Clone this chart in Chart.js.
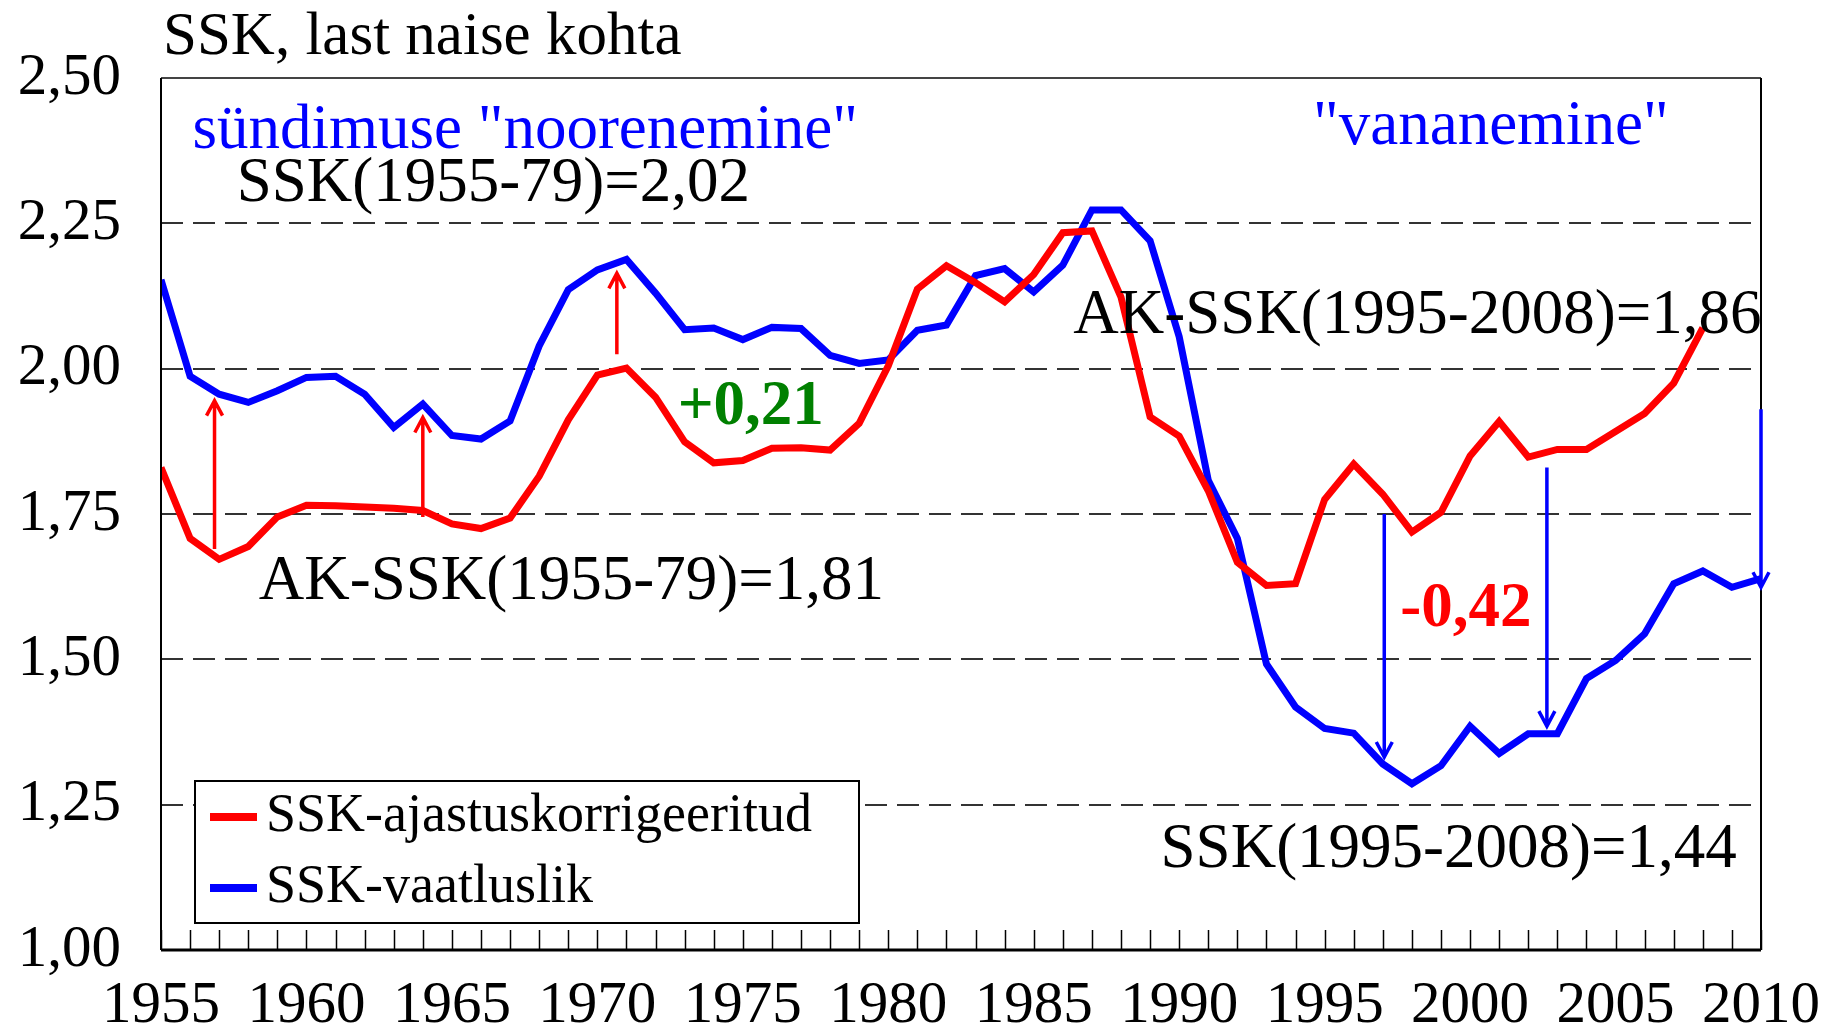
<!DOCTYPE html>
<html lang="et">
<head>
<meta charset="UTF-8">
<title>SSK, last naise kohta</title>
<script src="https://cdn.jsdelivr.net/npm/chart.js"></script>
<style>
  body { margin: 0; background: #fff; }
  #wrap { width: 1825px; height: 1028px; }
</style>
</head>
<body>
<div id="wrap"><canvas id="ssk"></canvas></div>
<script>
// aastad ja read
const years = [];
for (let y = 1955; y <= 2010; y++) years.push(y);

const ajastusKorrig = [
  1.830, 1.708, 1.672, 1.694, 1.745, 1.765, 1.764, 1.762, 1.760, 1.756,
  1.733, 1.725, 1.743, 1.815, 1.912, 1.989, 2.001, 1.951, 1.874, 1.838,
  1.842, 1.863, 1.864, 1.860, 1.906, 2.005, 2.137, 2.177, 2.148, 2.115,
  2.162, 2.234, 2.237, 2.123, 1.917, 1.884, 1.790, 1.667, 1.627, 1.630,
  1.775, 1.836, 1.784, 1.719, 1.753, 1.850, 1.909, 1.848, 1.861, 1.861,
  1.892, 1.923, 1.975, 2.070
];
const vaatluslik = [
  2.153, 1.987, 1.956, 1.942, 1.962, 1.985, 1.987, 1.956, 1.899, 1.939,
  1.885, 1.879, 1.910, 2.039, 2.136, 2.170, 2.188, 2.130, 2.067, 2.070,
  2.050, 2.071, 2.069, 2.023, 2.009, 2.015, 2.066, 2.075, 2.160, 2.172,
  2.132, 2.178, 2.273, 2.273, 2.220, 2.055, 1.808, 1.708, 1.492, 1.418,
  1.381, 1.373, 1.320, 1.286, 1.317, 1.385, 1.338, 1.372, 1.372, 1.467,
  1.498, 1.544, 1.630, 1.652, 1.624, 1.639
];
const seriesNames = ['SSK-ajastuskorrigeeritud', 'SSK-vaatluslik'];
const yTicks = [1.00, 1.25, 1.50, 1.75, 2.00, 2.25, 2.50];

// nooled: aasta, algus, lõpp
const redArrowX = [1956.84, 1964.0, 1970.67];
const redArrowFrom = [1.690, 1.745, 2.025];
const redArrowTo = [1.945, 1.916, 2.164];
const blueArrowX = [1997.05, 2002.64, 2010.0];
const blueArrowFrom = [1.750, 1.830, 1.930];
const blueArrowTo = [1.332, 1.385, 1.624];

// tekstid: [tekst, aasta, väärtus, värv, paks]
const notes = [
  ['sündimuse "noorenemine"', 1956.08, 2.380, '#0000ff', false],
  ['SSK(1955-79)=2,02', 1957.6, 2.288, '#000', false],
  ['+0,21', 1972.76, 1.904, '#008000', true],
  ['AK-SSK(1955-79)=1,81', 1958.36, 1.604, '#000', false],
  ['AK-SSK(1995-2008)=1,86', 1986.36, 2.062, '#000', false],
  ['"vananemine"', 1994.6, 2.386, '#0000ff', false],
  ['-0,42', 1997.6, 1.558, '#ff0000', true],
  ['SSK(1995-2008)=1,44', 1989.36, 1.142, '#000', false]
];

const SERIF = "'Liberation Serif', 'Times New Roman', serif";
const RED = '#ff0000';
const BLUE = '#0000ff';

function drawArrow(ctx, x, y1, y2, color) {
  const dir = y2 < y1 ? 1 : -1;
  ctx.strokeStyle = color;
  ctx.lineWidth = 3.5;
  ctx.beginPath();
  ctx.moveTo(x, y1);
  ctx.lineTo(x, y2);
  ctx.moveTo(x - 8, y2 + dir * 15);
  ctx.lineTo(x, y2);
  ctx.lineTo(x + 8, y2 + dir * 15);
  ctx.stroke();
}

const extras = {
  id: 'extras',
  afterDatasetsDraw(chart) {
    const ctx = chart.ctx;
    const xs = chart.scales.x, ys = chart.scales.y;
    const ca = chart.chartArea;
    ctx.save();

    // sisemised kriipsud x-teljel
    ctx.strokeStyle = '#000';
    ctx.lineWidth = 1.5;
    ctx.beginPath();
    years.forEach(yr => {
      const px = Math.round(xs.getPixelForValue(yr)) + 0.5;
      ctx.moveTo(px, ca.bottom);
      ctx.lineTo(px, ca.bottom - 20);
    });
    ctx.stroke();

    // raam
    ctx.strokeStyle = '#444';
    ctx.lineWidth = 2;
    ctx.beginPath();
    ctx.moveTo(ca.left, ca.top);
    ctx.lineTo(ca.right, ca.top);
    ctx.stroke();
    ctx.strokeStyle = '#000';
    ctx.beginPath();
    ctx.moveTo(ca.left, ca.bottom);
    ctx.lineTo(ca.left, ca.top);
    ctx.moveTo(ca.right, ca.top);
    ctx.lineTo(ca.right, ca.bottom);
    ctx.stroke();
    ctx.lineWidth = 3;
    ctx.beginPath();
    ctx.moveTo(ca.left, ca.bottom);
    ctx.lineTo(ca.right, ca.bottom);
    ctx.stroke();

    // nooled
    redArrowX.forEach((yr, i) => drawArrow(ctx, xs.getPixelForValue(yr),
      ys.getPixelForValue(redArrowFrom[i]), ys.getPixelForValue(redArrowTo[i]), RED));
    blueArrowX.forEach((yr, i) => drawArrow(ctx, xs.getPixelForValue(yr),
      ys.getPixelForValue(blueArrowFrom[i]), ys.getPixelForValue(blueArrowTo[i]), BLUE));

    // tekstid
    ctx.textBaseline = 'alphabetic';
    ctx.textAlign = 'left';
    notes.forEach(([t, yr, v, col, bold]) => {
      ctx.font = (bold ? 'bold ' : '') + '63px ' + SERIF;
      ctx.fillStyle = col;
      ctx.fillText(t, xs.getPixelForValue(yr), ys.getPixelForValue(v));
    });

    // pealkiri
    ctx.font = '61px ' + SERIF;
    ctx.fillStyle = '#000';
    ctx.fillText('SSK, last naise kohta', ca.left + 2, 54);

    // legend
    const lx = ca.left + 34, lw = 664, lh = 142, ly = ca.bottom - 27 - lh;
    ctx.fillStyle = '#fff';
    ctx.fillRect(lx, ly, lw, lh);
    ctx.strokeStyle = '#000';
    ctx.lineWidth = 2;
    ctx.strokeRect(lx, ly, lw, lh);
    ctx.font = '54px ' + SERIF;
    ctx.textBaseline = 'middle';
    chart.data.datasets.forEach((ds, i) => {
      const cy = ly + 36 + i * 71;
      ctx.strokeStyle = ds.borderColor;
      ctx.lineWidth = 8;
      ctx.beginPath();
      ctx.moveTo(lx + 15, cy);
      ctx.lineTo(lx + 62, cy);
      ctx.stroke();
      ctx.fillStyle = '#000';
      ctx.fillText(ds.label, lx + 71, cy);
    });
    ctx.restore();
  }
};

new Chart(document.getElementById('ssk'), {
  type: 'line',
  data: {
    datasets: [
      {
        label: seriesNames[0],
        data: ajastusKorrig.map((v, i) => ({ x: years[i], y: v })),
        borderColor: RED,
        borderWidth: 7,
        pointRadius: 0,
        tension: 0
      },
      {
        label: seriesNames[1],
        data: vaatluslik.map((v, i) => ({ x: years[i], y: v })),
        borderColor: BLUE,
        borderWidth: 7,
        pointRadius: 0,
        tension: 0
      }
    ]
  },
  options: {
    responsive: true,
    maintainAspectRatio: false,
    animation: false,
    layout: { padding: { top: 78, right: 64, left: 0, bottom: 0 } },
    plugins: { legend: { display: false }, tooltip: { enabled: false } },
    scales: {
      x: {
        type: 'linear',
        min: 1955,
        max: 2010,
        afterFit: s => { s.height = 78; s.paddingLeft = 0; s.paddingRight = 0; },
        grid: { display: false },
        border: { display: false },
        ticks: {
          stepSize: 5,
          autoSkip: false,
          maxRotation: 0,
          padding: 13,
          color: '#000',
          font: { family: SERIF, size: 59 },
          callback: v => String(v)
        }
      },
      y: {
        min: 1,
        max: 2.5,
        afterFit: s => { s.width = 161; },
        afterBuildTicks: s => { s.ticks = yTicks.map(v => ({ value: v })); },
        grid: {
          drawTicks: false,
          color: ctx => (ctx.tick && (ctx.tick.value === 1 || ctx.tick.value === 2.5)) ? 'rgba(0,0,0,0)' : '#333',
          lineWidth: 2
        },
        border: { display: false, dash: [22, 10] },
        ticks: {
          padding: 40,
          color: '#000',
          font: { family: SERIF, size: 59 },
          callback: v => v.toFixed(2).replace('.', ',')
        }
      }
    }
  },
  plugins: [extras]
});
</script>
</body>
</html>
